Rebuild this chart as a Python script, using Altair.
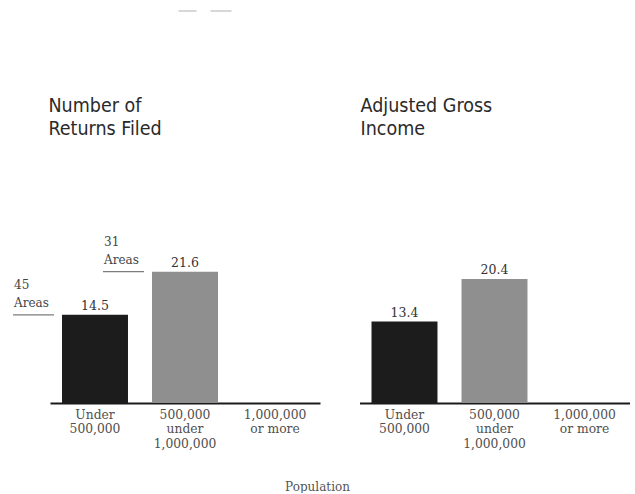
import json
import altair as alt
import pandas as pd

# ---- data ----
categories = ["Under 500,000", "500,000 under 1,000,000", "1,000,000 or more"]
label_lines = [["Under", "500,000"], ["500,000", "under", "1,000,000"], ["1,000,000", "or more"]]
returns_values = [14.5, 21.6, 0.0]
agi_values = [13.4, 20.4, 0.0]
area_counts = [45, 31]          # areas in the first two population groups
panel_titles = ["Number of\nReturns Filed", "Adjusted Gross\nIncome"]
x_title = "Population"
bar_colors = ["#1c1c1c", "#8f8f8f", "#d0d0d0"]

SANS = "'DejaVu Sans Condensed', 'Liberation Sans', sans-serif"
SERIF = "'DejaVu Serif', 'Liberation Serif', serif"

# label expression for the multi-line category labels
expr = json.dumps(label_lines[-1])
for cat, lines in reversed(list(zip(categories[:-1], label_lines[:-1]))):
    expr = f"datum.value == {json.dumps(cat)} ? {json.dumps(lines)} : ({expr})"

PW, PH = 270, 180
YMAX = 29.6
TOP = 223     # top of plot area in the page
LEFT = 49.5   # left of first panel in the page


def panel(values, title, title_dx, annotate):
    df = pd.DataFrame({"cat": categories, "value": values})
    x = alt.X(
        "cat:N", sort=categories,
        scale=alt.Scale(domain=categories, paddingInner=0.267, paddingOuter=0.1335),
        axis=alt.Axis(
            title=None, ticks=False, grid=False, domain=True, domainColor="#1a1a1a",
            domainWidth=1.8, labelExpr=expr, labelAngle=0, labelFont=SERIF,
            labelFontSize=12.3, labelColor="#505050", labelPadding=5,
            labelBaseline="top", labelLineHeight=14.5, labelLimit=0,
        ),
    )
    y = alt.Y("value:Q", scale=alt.Scale(domain=[0, YMAX], nice=False, zero=True), axis=None)
    base = alt.Chart(df)
    bars = base.mark_bar().encode(
        x=x, y=y,
        color=alt.Color("cat:N", scale=alt.Scale(domain=categories, range=bar_colors), legend=None),
    )
    vals = base.transform_filter("datum.value > 0").mark_text(
        baseline="alphabetic", dy=-5, font=SERIF, fontSize=12.5, color="#333"
    ).encode(x=alt.X("cat:N", sort=categories), y="value:Q", text=alt.Text("value:Q", format=".1f"))
    ttl = alt.Chart(pd.DataFrame({"t": [title]})).mark_text(
        align="left", baseline="alphabetic", lineBreak="\n", lineHeight=23,
        font=SANS, fontSize=19.5, color="#2a2a2a",
    ).encode(x=alt.value(title_dx), y=alt.value(112 - TOP), text="t:N")
    layers = [bars, vals, ttl]
    if annotate:
        adf = pd.DataFrame({
            "cat": categories[:2],
            "value": values[:2],
            "note": [f"{n}\nAreas" for n in area_counts],
        })
        abase = alt.Chart(adf)
        notes = abase.mark_text(
            align="left", baseline="alphabetic", dx=-81, dy=-26, lineBreak="\n",
            lineHeight=18.5, font=SERIF, fontSize=12, color="#444",
        ).encode(x=alt.X("cat:N", sort=categories), y="value:Q", text="note:N")
        unders = abase.mark_tick(
            orient="horizontal", size=41, thickness=1.2, xOffset=-61.5, color="#444"
        ).encode(x=alt.X("cat:N", sort=categories), y="value:Q")
        pop = alt.Chart(pd.DataFrame({"t": [x_title]})).mark_text(
            font=SERIF, fontSize=12, color="#555", baseline="middle", align="center"
        ).encode(x=alt.value(317 - LEFT), y=alt.value(487 - TOP), text="t:N")
        # two faint dashes at the top of the scanned page
        one = pd.DataFrame({"a": [0]})
        dash1 = alt.Chart(one).mark_rule(color="#bdbdbd", strokeWidth=1.2).encode(
            x=alt.value(178 - LEFT), x2=alt.value(196 - LEFT), y=alt.value(11 - TOP))
        dash2 = alt.Chart(one).mark_rule(color="#bdbdbd", strokeWidth=1.2).encode(
            x=alt.value(210 - LEFT), x2=alt.value(231 - LEFT), y=alt.value(11 - TOP))
        anchor = alt.Chart(one).mark_rule(
            stroke="transparent", strokeWidth=0
        ).encode(x=alt.value(-LEFT), x2=alt.value(-LEFT), y=alt.value(-TOP), y2=alt.value(-TOP))
        layers += [notes, unders, pop, dash1, dash2, anchor]
    return alt.layer(*layers).properties(width=PW, height=PH)


chart = alt.hconcat(
    panel(returns_values, panel_titles[0], -1.5, True),
    panel(agi_values, panel_titles[1], 1, False),
    spacing=39.5,
    bounds="flush",
).properties(
    padding={"left": 0, "top": 0, "right": 0, "bottom": 0},
    background="white",
).configure_view(stroke=None)

chart.save("out.html", embed_options={"renderer": "svg", "actions": False})
